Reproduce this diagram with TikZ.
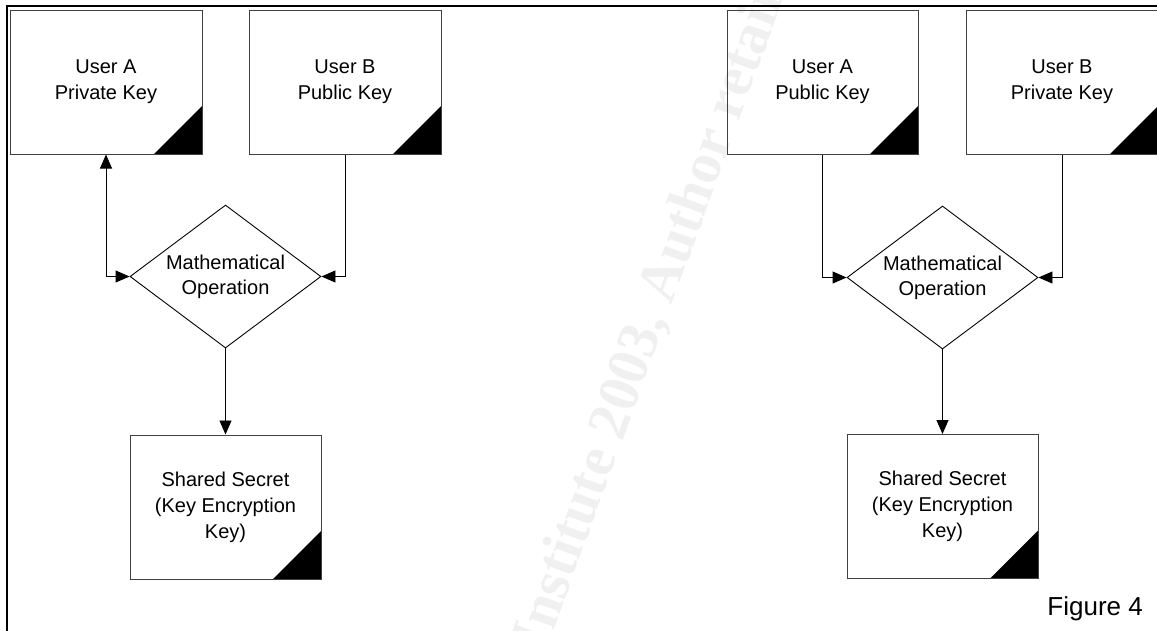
\documentclass[tikz,border=0pt]{standalone}
\usepackage{fontspec}
\setmainfont{Liberation Sans}
\newfontfamily\wmfont{Liberation Serif}
\usetikzlibrary{shapes.geometric,arrows.meta}
\begin{document}
\begin{tikzpicture}[x=1pt,y=-1pt,
  keybox/.style={draw=black!75,line width=1pt,rectangle,minimum width=192pt,minimum height=144pt,inner sep=0pt,
    align=center,font=\fontsize{20}{26}\selectfont,
    path picture={\fill (path picture bounding box.south east) -- ++(-48pt,0pt) -- ++(48pt,48pt) -- cycle;}},
  opbox/.style={draw=black,line width=0.9pt,diamond,minimum width=191pt,minimum height=143pt,inner sep=0pt},
  optext/.style={align=center,font=\fontsize{20}{25}\selectfont,inner sep=0pt},
  conn/.style={draw=black,line width=0.9pt},
  tip/.style={-{Triangle[length=14pt,width=12pt]}},
  frame/.style={line width=2pt,black}
]
\useasboundingbox (0,0) rectangle (1157,630);
% watermark
\node[rotate=70,anchor=base west,inner sep=0pt,text=black!6,font=\wmfont\bfseries\fontsize{58}{58}\selectfont] (wm) at (470,860) {© SANS Institute 2003, Author retains full rights.};
% frame
\coordinate (ftl) at (6.7,5.8);
\coordinate (ftr) at (1160,5.8);
\coordinate (fbl) at (6.7,632);
\draw[frame] (fbl) -- (ftl) -- (ftr);
% left group
\node[keybox] (ua) at (106,82) {User A\\Private Key};
\node[keybox] (ub) at (345,82) {User B\\Public Key};
\node[opbox] (d1) at (225.5,276.5) {};
\node[optext] (t1) at (d1.center) {Mathematical\\Operation};
\node[keybox,minimum width=191pt] (s1) at (225.5,507) {Shared Secret\\(Key Encryption\\Key)};
\draw[conn,{Triangle[length=14pt,width=12pt]}-{Triangle[length=14pt,width=12pt]}] (ua.south) |- (d1.west);
\draw[conn,tip] (ub.south) |- (d1.east);
\draw[conn,tip] (d1.south) -- (s1.north);
% right group
\node[keybox,minimum width=191pt] (pa) at (822.5,82) {User A\\Public Key};
\node[keybox] (pb) at (1062,82) {User B\\Private Key};
\node[opbox] (d2) at (942.5,277.5) {};
\node[optext] (t2) at (d2.center) {Mathematical\\Operation};
\node[keybox,minimum width=191pt] (s2) at (942.5,506.5) {Shared Secret\\(Key Encryption\\Key)};
\draw[conn,tip] (pa.south) |- (d2.west);
\draw[conn,tip] (pb.south) |- (d2.east);
\draw[conn,tip] (d2.south) -- (s2.north);
% caption
\node[anchor=base east,inner sep=0pt,font=\fontsize{26}{30}\selectfont] (cap) at (1143,615) {Figure 4};
\end{tikzpicture}
\end{document}
